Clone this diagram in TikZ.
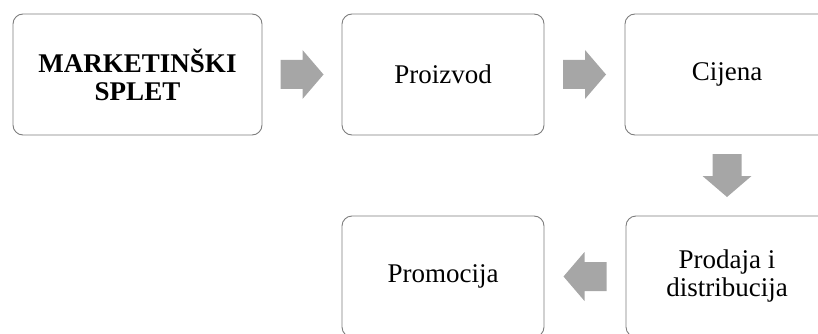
\documentclass[tikz,border=0pt]{standalone}
\usepackage{fontspec}
\setmainfont{Liberation Serif}
\usetikzlibrary{calc}
\definecolor{boxline}{RGB}{125,125,125}
\definecolor{arrowgray}{RGB}{166,166,166}
\tikzset{
  box/.style={draw=boxline, line width=0.9pt, rounded corners=10pt, fill=white,
    inner sep=0pt, minimum height=121pt, align=center,
    font=\fontsize{27}{28}\selectfont},
  blockarrow/.pic={\fill[arrowgray] (-21.5,-14.5) -- (0.5,-14.5) -- (0.5,-24.5) -- (21.5,0) -- (0.5,24.5) -- (0.5,14.5) -- (-21.5,14.5) -- cycle;}
}
\begin{document}
\begin{tikzpicture}[x=1pt,y=1pt]
\useasboundingbox (0,0) rectangle (818,-334);
\clip (0,0) rectangle (818,-334);
\node[box, minimum width=249pt] (m) at (137.5,-74.5) {\textbf{MARKETINŠKI}\\\textbf{SPLET}};
\node[box, minimum width=202pt] (p) at (443,-74.5) {Proizvod};
\node[box, minimum width=204pt] (c) at (727,-74.5) {Cijena};
\node[box, minimum width=202pt] (d) at (727,-276.5) {Prodaja i\\distribucija};
\node[box, minimum width=202pt] (r) at (443,-276.5) {Promocija};
\pic at ($(m.east)!0.5!(p.west)$) {blockarrow};
\pic at ($(p.east)!0.5!(c.west)$) {blockarrow};
\pic[rotate=-90] at ($(c.south)!0.5!(d.north)$) {blockarrow};
\pic[rotate=180] at ($(d.west)!0.5!(r.east)$) {blockarrow};
\end{tikzpicture}
\end{document}
